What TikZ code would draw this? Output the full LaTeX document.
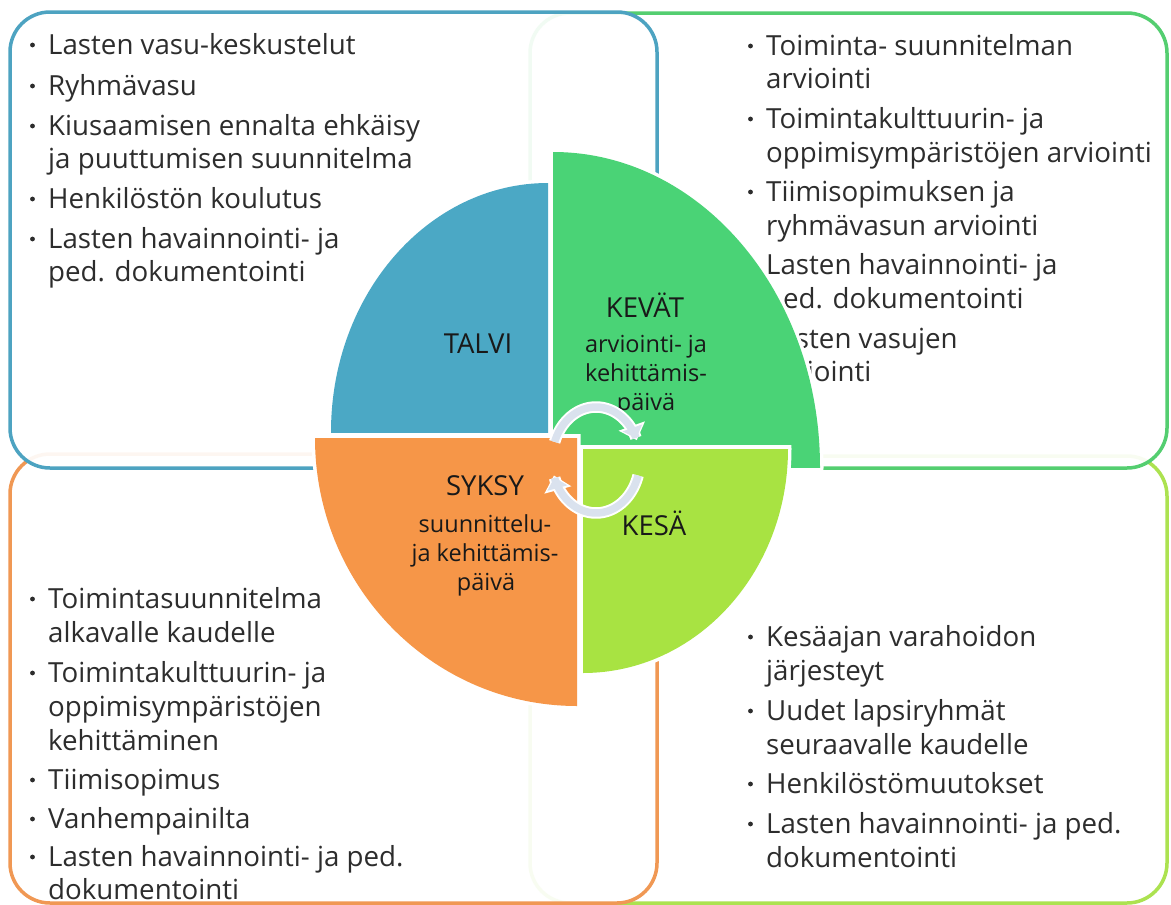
\documentclass[tikz,border=0pt]{standalone}
\usepackage{fontspec}
\setmainfont{Open Sans}
\usetikzlibrary{arrows.meta}
\definecolor{bluq}{RGB}{75,168,197}
\definecolor{grnq}{RGB}{74,211,118}
\definecolor{orgq}{RGB}{246,150,72}
\definecolor{lgrq}{RGB}{168,227,66}
\definecolor{blub}{RGB}{77,163,193}
\definecolor{grnb}{RGB}{84,206,112}
\definecolor{orgb}{RGB}{240,152,84}
\definecolor{lgrb}{RGB}{172,226,80}
\definecolor{txtc}{RGB}{45,45,45}
\definecolor{labc}{RGB}{25,25,25}
\definecolor{arrc}{RGB}{218,226,238}
% quarter: cx cy rx ry sx sy colour
\newcommand\qfill[7]{%
  \begin{scope}
    \clip ({#1-#5*3.5},{#2-#6*3.5}) rectangle ({#1+#5*(#3+14)},{#2+#6*(#4+14)});
    \fill[white] (#1,#2) ellipse [x radius={(#3+3.5)*1pt}, y radius={(#4+3.5)*1pt}];
  \end{scope}
  \begin{scope}
    \clip (#1,#2) rectangle ({#1+#5*(#3+14)},{#2+#6*(#4+14)});
    \fill[#7] (#1,#2) ellipse [x radius={#3*1pt}, y radius={#4*1pt}];
  \end{scope}}
\newcommand\litem[4]{\node[txt] (#1) at (#2,#3) {#4};}
\newcommand\bul[1]{\fill[txtc] ([xshift=-15.5pt,yshift=9pt]#1.base west) circle (2.4pt);}
\begin{document}
\begin{tikzpicture}[x=1pt,y=-1pt,
  rbox/.style={line width=3.5pt, rounded corners=40pt, fill=white, fill opacity=0.92},
  txt/.style={anchor=base west, inner sep=0pt, text=txtc, font=\fontsize{27.7}{32}\selectfont},
  lab/.style={anchor=base, inner sep=0pt, text=labc, font=\fontsize{27.5}{32}\selectfont},
  sub/.style={anchor=base, inner sep=0pt, text=labc, font=\fontsize{23.5}{28}\selectfont},
  arrw/.style={line width=7.5pt, draw=arrc, shorten >=2pt, -{Triangle[width=20pt,length=11pt]}},
  arrwo/.style={line width=11.5pt, draw=white, -{Triangle[width=27pt,length=15pt]}}]
\useasboundingbox (0,0) rectangle (1171,905);
\fill[white] (0,0) rectangle (1171,905);
% boxes
\draw[rbox, draw=lgrb] (530,456) rectangle (1167,903);
\draw[rbox, draw=grnb] (530,13) rectangle (1167,468);
\draw[rbox, draw=orgb] (10,454) rectangle (657,903);
\draw[rbox, draw=blub] (10,12) rectangle (657,468);
% top-left list
\litem{tl1}{48}{54}{Lasten vasu-keskustelut}
\litem{tl2}{48}{95}{Ryhmävasu}
\litem{tl3}{48}{135}{Kiusaamisen ennalta ehkäisy}
\litem{tl4}{48}{168}{ja puuttumisen suunnitelma}
\litem{tl5}{48}{208}{Henkilöstön koulutus}
\litem{tl6}{48}{248}{Lasten havainnointi- ja}
\litem{tl7}{48}{281}{ped. dokumentointi}
\bul{tl1}\bul{tl2}\bul{tl3}\bul{tl5}\bul{tl6}
% top-right list
\litem{tr1}{766}{55}{Toiminta- suunnitelman}
\litem{tr2}{766}{88}{arviointi}
\litem{tr3}{766}{128}{Toimintakulttuurin- ja}
\litem{tr4}{766}{162}{oppimisympäristöjen arviointi}
\litem{tr5}{766}{201}{Tiimisopimuksen ja}
\litem{tr6}{766}{235}{ryhmävasun arviointi}
\litem{tr7}{766}{274}{Lasten havainnointi- ja}
\litem{tr8}{766}{308}{ped. dokumentointi}
\litem{tr9}{766}{348}{Lasten vasujen}
\litem{tr10}{766}{381}{arviointi}
\bul{tr1}\bul{tr3}\bul{tr5}\bul{tr7}\bul{tr9}
% bottom-left list
\litem{bl1}{48}{608}{Toimintasuunnitelma}
\litem{bl2}{48}{642}{alkavalle kaudelle}
\litem{bl3}{48}{682}{Toimintakulttuurin- ja}
\litem{bl4}{48}{716}{oppimisympäristöjen}
\litem{bl5}{48}{750}{kehittäminen}
\litem{bl6}{48}{789}{Tiimisopimus}
\litem{bl7}{48}{828}{Vanhempainilta}
\litem{bl8}{48}{866}{Lasten havainnointi- ja ped.}
\litem{bl9}{48}{899}{dokumentointi}
\bul{bl1}\bul{bl3}\bul{bl6}\bul{bl7}\bul{bl8}
% bottom-right list
\litem{br1}{766}{646}{Kesäajan varahoidon}
\litem{br2}{766}{680}{järjesteyt}
\litem{br3}{766}{720}{Uudet lapsiryhmät}
\litem{br4}{766}{754}{seuraavalle kaudelle}
\litem{br5}{766}{793}{Henkilöstömuutokset}
\litem{br6}{766}{833}{Lasten havainnointi- ja ped.}
\litem{br7}{766}{867}{dokumentointi}
\bul{br1}\bul{br3}\bul{br5}\bul{br6}
% quarters
\qfill{548}{432}{217}{249}{-1}{-1}{bluq}
\qfill{553}{467}{267}{315}{1}{-1}{grnq}
\qfill{577}{438}{262}{268}{-1}{1}{orgq}
\qfill{583}{449}{205}{224}{1}{1}{lgrq}
% labels
\node[lab] (talvi) at (478,353) {TALVI};
\node[lab] (kevat) at (645,317) {KEVÄT};
\node[sub] (kev1) at (646,352) {arviointi- ja};
\node[sub] (kev2) at (646,381) {kehittämis-};
\node[sub] (kev3) at (646,410) {päivä};
\node[lab] (syksy) at (485,495) {SYKSY};
\node[sub] (syk1) at (485,532) {suunnittelu-};
\node[sub] (syk2) at (485,561) {ja kehittämis-};
\node[sub] (syk3) at (486,590) {päivä};
\node[lab] (kesa) at (654,535) {KESÄ};
% cycle arrows
\draw[arrwo] plot[domain=160:22, samples=40, smooth] ({596+44*cos(\x)},{460-53*sin(\x)});
\draw[arrw] plot[domain=160:22, samples=40, smooth] ({596+44*cos(\x)},{460-53*sin(\x)});
\draw[arrwo] plot[domain=-17:-163, samples=40, smooth] ({596+44*cos(\x)},{460-53*sin(\x)});
\draw[arrw] plot[domain=-17:-163, samples=40, smooth] ({596+44*cos(\x)},{460-53*sin(\x)});
\end{tikzpicture}
\end{document}
